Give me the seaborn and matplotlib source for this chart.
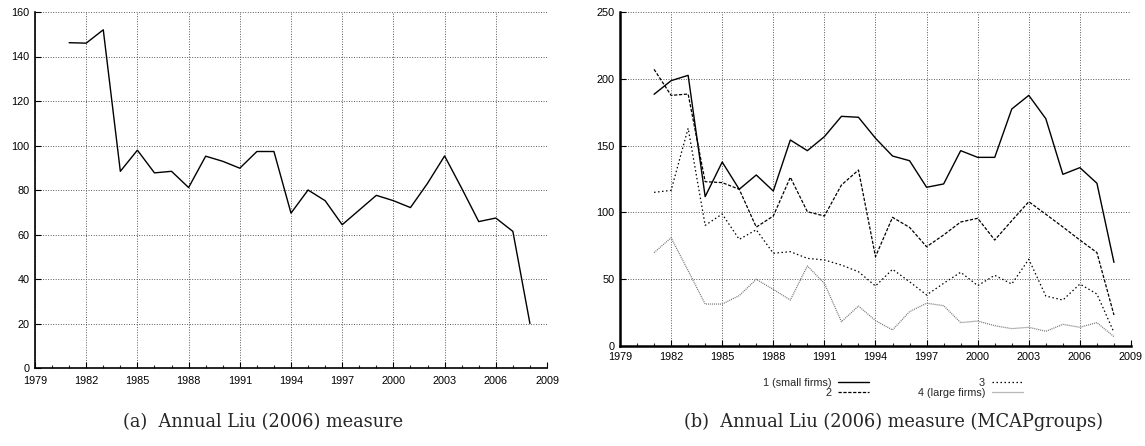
import numpy as np
import pandas as pd
import matplotlib
matplotlib.use("Agg")
import matplotlib.pyplot as plt
from matplotlib.ticker import MultipleLocator
import seaborn as sns

# ---------------- data ----------------
years = list(range(1981, 2009))

liu_all = [146.2, 146.0, 152.0, 88.4, 97.9, 87.7, 88.4, 81.1, 95.2, 92.9,
           89.8, 97.3, 97.3, 69.6, 80.0, 75.2, 64.4, 71.0, 77.6, 75.2,
           72.1, 83.0, 95.3, 80.8, 65.8, 67.4, 61.4, 20.0]

group1 = [188.4, 198.6, 202.6, 111.8, 137.7, 117.3, 128.0, 116.0, 154.2, 146.2,
          156.7, 171.9, 171.2, 155.5, 142.2, 138.7, 118.8, 121.3, 146.2, 141.2,
          141.2, 177.4, 187.6, 170.1, 128.5, 133.5, 121.8, 62.6]
group2 = [207.1, 187.6, 188.6, 123.0, 122.3, 117.3, 89.0, 97.3, 126.3, 100.5,
          97.3, 120.5, 131.7, 66.9, 96.3, 88.8, 74.3, 83.1, 92.8, 95.6,
          79.3, 93.8, 108.0, 98.6, 89.1, 79.3, 69.9, 23.2]
group3 = [115.0, 116.5, 163.0, 90.3, 98.8, 79.8, 87.0, 69.4, 70.6, 65.6,
          64.4, 60.6, 55.6, 44.9, 57.4, 48.1, 38.2, 46.9, 55.2, 45.2,
          52.9, 46.4, 64.9, 37.4, 34.4, 46.4, 38.9, 10.2]
group4 = [69.9, 81.0, 56.4, 31.4, 31.4, 37.7, 49.9, 42.4, 34.4, 59.9,
          46.9, 18.2, 29.9, 19.0, 12.0, 25.7, 32.0, 30.2, 17.5, 18.7,
          15.2, 13.0, 14.0, 11.0, 16.2, 14.0, 17.5, 7.0]

group_labels = ["1 (small firms)", "2", "3", "4 (large firms)"]
x_ticks = list(range(1979, 2010, 3))
caption_a = "(a)  Annual Liu (2006) measure"
caption_b = "(b)  Annual Liu (2006) measure (MCAPgroups)"

# ---------------- style ----------------
sns.set_style("ticks")
plt.rcParams["font.family"] = ["Liberation Sans", "DejaVu Sans"]
plt.rcParams["axes.linewidth"] = 1.0

TICK_FS = 7.8

fig = plt.figure(figsize=(11.45, 4.46), dpi=100)
W, H = 1145, 446
ax1 = fig.add_axes([35 / W, 1 - 368 / H, 512 / W, 356 / H])
ax2 = fig.add_axes([620 / W, 1 - 346 / H, 511 / W, 334 / H])

grid_kw = dict(color="0.35", linestyle=(0, (1, 1.6)), linewidth=0.7)


def style_axes(ax, ymax, ystep, xpad, spine_w):
    ax.set_xlim(1979, 2009)
    ax.set_ylim(0, ymax)
    ax.set_xticks(x_ticks)
    ax.set_xticklabels([str(t) for t in x_ticks])
    ax.xaxis.set_minor_locator(MultipleLocator(1))
    ax.yaxis.set_major_locator(MultipleLocator(ystep))
    ax.tick_params(axis="both", which="major", direction="in", length=4,
                   width=0.8, labelsize=TICK_FS, colors="black")
    ax.tick_params(axis="x", which="major", pad=xpad)
    ax.tick_params(axis="y", which="major", pad=4)
    ax.tick_params(axis="x", which="minor", direction="in", length=2.5,
                   width=0.8)
    ax.grid(True, which="major", **grid_kw)
    for s in ["top", "right"]:
        ax.spines[s].set_visible(False)
    for s in ["left", "bottom"]:
        ax.spines[s].set_linewidth(spine_w)
        ax.spines[s].set_color("black")
    ax.set_xlabel("")
    ax.set_ylabel("")
    ax.set_axisbelow(True)


# ---------------- panel (a) ----------------
sns.lineplot(x=years, y=liu_all, ax=ax1, color="black", linewidth=1.0)
style_axes(ax1, 160, 20, 5.5, 1.2)

# ---------------- panel (b) ----------------
styles = [
    dict(color="black", linestyle="-", linewidth=1.0),
    dict(color="black", linestyle=(0, (2.6, 1.3)), linewidth=0.9),
    dict(color="black", linestyle=(0, (1.2, 2.0)), linewidth=0.9),
    dict(color="0.45", linestyle=(0, (0.8, 0.8)), linewidth=0.9),
]
for vals, lab, st in zip([group1, group2, group3, group4], group_labels, styles):
    sns.lineplot(x=years, y=vals, ax=ax2, label=lab, **st)
style_axes(ax2, 250, 50, 4, 1.8)

leg = ax2.legend(ncol=2, markerfirst=False, loc="upper center",
                 bbox_to_anchor=(0.534, -0.07), frameon=False,
                 handlelength=2.9, columnspacing=4.5, labelspacing=0.0,
                 handletextpad=0.6, fontsize=TICK_FS, borderpad=0.3)

# ---------------- captions ----------------
fig.text(263 / W, 1 - 422 / H, caption_a, ha="center", va="center",
         family=["DejaVu Serif"], fontsize=12.8)
fig.text(893 / W, 1 - 422 / H, caption_b, ha="center", va="center",
         family=["DejaVu Serif"], fontsize=12.8)

fig.savefig("out.png", dpi=100)
